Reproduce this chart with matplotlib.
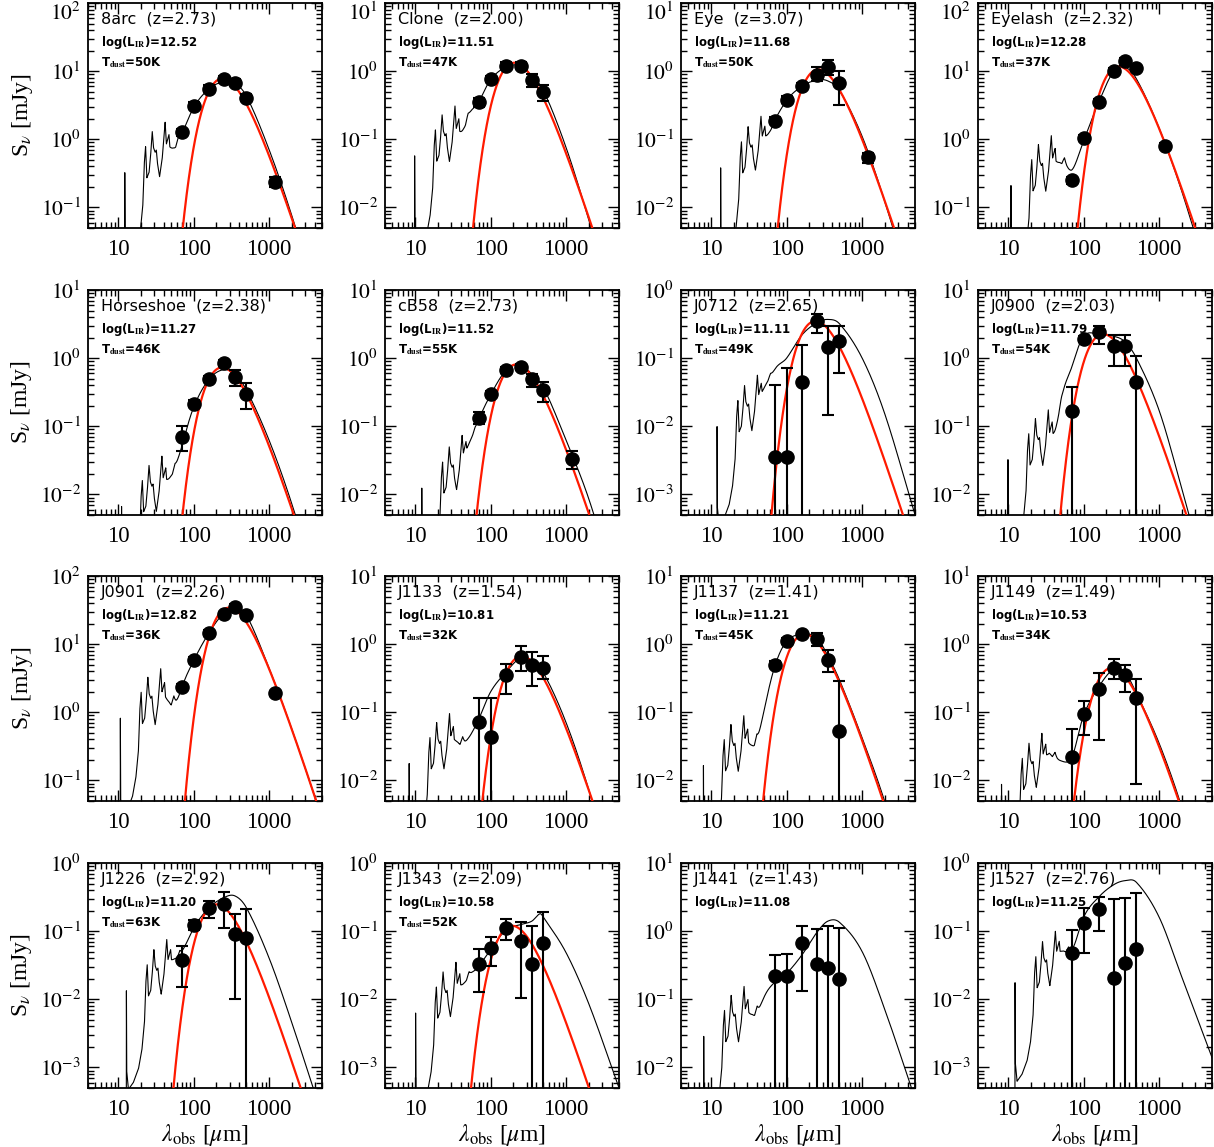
import numpy as np
import matplotlib
matplotlib.use("Agg")
import matplotlib.pyplot as plt
from matplotlib.ticker import FixedLocator, FuncFormatter, LogLocator, NullFormatter

plt.rcParams['mathtext.fontset'] = 'stix'

# ---------------- data ----------------
names = ["8arc", "Clone", "Eye", "Eyelash", "Horseshoe", "cB58", "J0712", "J0900",
         "J0901", "J1133", "J1137", "J1149", "J1226", "J1343", "J1441", "J1527"]
redshift = [2.73, 2.00, 3.07, 2.32, 2.38, 2.73, 2.65, 2.03,
            2.26, 1.54, 1.41, 1.49, 2.92, 2.09, 1.43, 2.76]
log_lir = ["12.52", "11.51", "11.68", "12.28", "11.27", "11.52", "11.11", "11.79",
           "12.82", "10.81", "11.21", "10.53", "11.20", "10.58", "11.08", "11.25"]
t_dust = [50, 47, 50, 37, 46, 55, 49, 54, 36, 32, 45, 34, 63, 52, None, None]
y_top = [100, 10, 10, 100, 10, 10, 1, 10, 100, 10, 10, 10, 1, 1, 10, 1]

# photometry (observed wavelength [um], flux [mJy], error bar lower / upper ends)
pt_lam = [
    [70, 100, 160, 250, 350, 500, 1200], [70, 100, 160, 250, 350, 500],
    [70, 100, 160, 250, 350, 500, 1200], [70, 100, 160, 250, 350, 500, 1200],
    [70, 100, 160, 250, 350, 500], [70, 100, 160, 250, 350, 500, 1200],
    [70, 100, 160, 250, 350, 500], [70, 100, 160, 250, 350, 500],
    [70, 100, 160, 250, 350, 500, 1200], [70, 100, 160, 250, 350, 500],
    [70, 100, 160, 250, 350, 500], [70, 100, 160, 250, 350, 500],
    [70, 100, 160, 250, 350, 500], [70, 100, 160, 250, 350, 500],
    [70, 100, 160, 250, 350, 500], [70, 100, 160, 250, 350, 500]]
pt_flux = [
    [1.27, 3.1, 5.5, 7.6, 6.8, 4.1, 0.24], [0.35, 0.77, 1.21, 1.21, 0.75, 0.49],
    [0.186, 0.38, 0.60, 0.89, 1.16, 0.67, 0.055], [0.25, 1.03, 3.5, 10.2, 13.9, 11.1, 0.79],
    [0.070, 0.216, 0.49, 0.84, 0.53, 0.30], [0.133, 0.294, 0.67, 0.75, 0.49, 0.34, 0.033],
    [0.0036, 0.0036, 0.044, 0.35, 0.146, 0.18], [0.167, 1.93, 2.42, 1.52, 1.52, 0.44],
    [2.37, 5.8, 14.7, 27.4, 35.5, 26.4, 1.89], [0.073, 0.044, 0.356, 0.64, 0.50, 0.45],
    [0.50, 1.11, 1.39, 1.19, 0.59, 0.053], [0.022, 0.096, 0.218, 0.454, 0.35, 0.16],
    [0.0375, 0.125, 0.22, 0.252, 0.092, 0.080], [0.033, 0.057, 0.113, 0.072, 0.033, 0.067],
    [0.222, 0.222, 0.67, 0.333, 0.288, 0.198], [0.048, 0.132, 0.211, 0.0206, 0.034, 0.054]]
pt_lo = [
    [1.12, 2.75, 4.9, 6.8, 6.0, 3.6, 0.20], [0.30, 0.69, 1.07, 1.07, 0.59, 0.36],
    [0.165, 0.34, 0.53, 0.71, 0.89, 0.32, 0.045], [0.22, 0.93, 3.15, 9.2, 12.5, 10.0, 0.71],
    [0.043, 0.19, 0.44, 0.76, 0.39, 0.18], [0.107, 0.265, 0.60, 0.68, 0.38, 0.23, 0.024],
    [1e-7, 1e-7, 1e-7, 0.237, 0.0147, 0.06], [1e-7, 1.75, 1.63, 0.78, 0.78, 1e-7],
    [2.15, 5.25, 13.3, 24.8, 32.1, 23.9, 1.71], [1e-7, 1e-7, 0.187, 0.41, 0.24, 0.31],
    [0.44, 1.0, 1.27, 0.93, 0.39, 1e-7], [1e-7, 0.047, 0.039, 0.31, 0.20, 0.0089],
    [0.0152, 0.105, 0.157, 0.11, 0.0101, 1e-7], [0.013, 0.0306, 0.075, 0.0104, 1e-7, 1e-7],
    [1e-7, 1e-7, 0.133, 1e-7, 1e-7, 1e-7], [1e-7, 0.048, 0.099, 1e-7, 1e-7, 1e-7]]
pt_hi = [
    [1.43, 3.5, 6.2, 8.5, 7.7, 4.6, 0.28], [0.41, 0.86, 1.37, 1.37, 0.92, 0.63],
    [0.21, 0.43, 0.68, 1.15, 1.44, 1.02, 0.064], [0.28, 1.14, 3.9, 11.3, 15.4, 12.3, 0.88],
    [0.10, 0.245, 0.55, 0.93, 0.67, 0.43], [0.16, 0.325, 0.74, 0.83, 0.59, 0.44, 0.043],
    [0.041, 0.071, 0.154, 0.44, 0.30, 0.30], [0.38, 2.13, 3.0, 2.2, 2.2, 1.09],
    [2.6, 6.4, 16.2, 30.1, 39.0, 29.0, 2.08], [0.16, 0.16, 0.52, 0.93, 0.77, 0.66],
    [0.56, 1.23, 1.52, 1.44, 0.81, 0.29], [0.056, 0.147, 0.38, 0.60, 0.49, 0.31],
    [0.060, 0.148, 0.28, 0.38, 0.176, 0.208], [0.054, 0.082, 0.15, 0.137, 0.118, 0.193],
    [0.44, 0.47, 1.18, 1.08, 1.18, 1.12], [0.103, 0.216, 0.32, 0.297, 0.31, 0.36]]

# template SED: far-IR part read at observed wavelengths (black line)
fir_grid = [35, 50, 70, 100, 160, 250, 350, 500, 1000, 2000, 5000]
fir_grid_j1343 = [35, 50, 70, 100, 160, 250, 350, 450, 500, 1000, 2000, 5000]
fir_flux = [
    [0.03, 0.2, 1.05, 2.9, 5.5, 7.0, 6.6, 4.3, 0.70, 0.075, 0.0026],
    [0.01, 0.16, 0.35, 0.75, 1.15, 1.2, 0.85, 0.52, 0.075, 0.0065, 0.0002],
    [0.003, 0.03, 0.16, 0.37, 0.60, 0.74, 0.72, 0.52, 0.11, 0.012, 0.0004],
    [0.02, 0.2, 0.32, 0.95, 3.6, 10.0, 11.5, 7.7, 1.45, 0.17, 0.006],
    [0.0008, 0.01, 0.05, 0.19, 0.49, 0.68, 0.58, 0.34, 0.062, 0.0072, 0.00025],
    [0.002, 0.03, 0.12, 0.29, 0.66, 0.80, 0.58, 0.37, 0.062, 0.0085, 0.0003],
    [0.001, 0.02, 0.065, 0.10, 0.22, 0.33, 0.37, 0.32, 0.10, 0.015, 0.0005],
    [0.005, 0.2, 0.75, 2.1, 2.25, 2.1, 1.75, 1.0, 0.17, 0.012, 0.0003],
    [0.05, 0.4, 2.2, 5.7, 14.7, 28.5, 34.5, 26.5, 4.4, 0.56, 0.028],
    [0.01, 0.035, 0.08, 0.2, 0.39, 0.63, 0.58, 0.38, 0.07, 0.0072, 0.0002],
    [0.01, 0.1, 0.48, 1.1, 1.4, 1.25, 0.68, 0.3, 0.042, 0.0048, 0.00015],
    [0.012, 0.017, 0.022, 0.09, 0.24, 0.43, 0.39, 0.19, 0.035, 0.004, 0.00012],
    [0.001, 0.012, 0.042, 0.11, 0.22, 0.31, 0.33, 0.22, 0.04, 0.0045, 0.0002],
    [0.002, 0.015, 0.03, 0.053, 0.105, 0.125, 0.14, 0.18, 0.16, 0.048, 0.0085, 0.0005],
    [0.02, 0.1, 0.18, 0.24, 0.45, 0.95, 1.4, 1.35, 0.5, 0.07, 0.0035],
    [0.002, 0.02, 0.045, 0.16, 0.32, 0.48, 0.55, 0.52, 0.16, 0.021, 0.0014]]
# mid-IR (PAH) part: height of 11.3um feature [mJy] and rest-frame shape
mir_peak = [1.7, 0.3, 0.2, 1.1, 0.035, 0.065, 0.052, 0.17,
            4.3, 0.093, 0.087, 0.046, 0.07, 0.033, 0.15, 0.092]
mir_rest = [2.0, 3.26, 3.29, 3.32, 3.5, 4.07, 4.76, 5.27, 5.7, 5.95, 6.2, 6.45, 6.9, 7.2,
            7.6, 7.9, 8.3, 8.6, 8.9, 9.5, 10.3, 11.25, 11.7, 12.65, 13.0, 14.5,
            15.5, 16.8, 18.0, 20.0, 25.0, 35.0, 100.0]
mir_rel = [-6, -6, -0.72, -1.9, -2.17, -2.07, -1.87, -1.6, -1.2, -0.6, -0.34, -0.8, -0.72, -0.5,
           -0.12, -0.36, -0.43, -0.4, -0.6, -0.83, -0.55, 0.0, -0.35, -0.22, -0.45, -0.58,
           -0.7, -0.6, -0.9, -1.25, -2.2, -4.0, -9.0]
# modified blackbody (red line) peak height [mJy]
red_peak = [7.8, 1.33, 1.06, 11.7, 0.73, 0.81, 0.35, 2.26,
            34.3, 0.665, 1.41, 0.45, 0.247, 0.12, None, None]


# ---------------- helpers ----------------
def loglog_curve(xs, ys, x):
    lx = np.log10(np.asarray(xs, float))
    ly = np.log10(np.asarray(ys, float))
    n = len(lx)
    m = np.empty(n)
    m[1:-1] = (ly[2:] - ly[:-2]) / (lx[2:] - lx[:-2])
    m[0] = (ly[1] - ly[0]) / (lx[1] - lx[0])
    m[-1] = (ly[-1] - ly[-2]) / (lx[-1] - lx[-2])
    t = np.log10(x)
    k = np.clip(np.searchsorted(lx, t) - 1, 0, n - 2)
    h = lx[k + 1] - lx[k]
    s = (t - lx[k]) / h
    y = ((2 * s**3 - 3 * s**2 + 1) * ly[k] + (s**3 - 2 * s**2 + s) * h * m[k]
         + (-2 * s**3 + 3 * s**2) * ly[k + 1] + (s**3 - s**2) * h * m[k + 1])
    y = np.where(t < lx[0], ly[0] + 6.0 * (t - lx[0]), y)
    y = np.where(t > lx[-1], ly[-1] + m[-1] * (t - lx[-1]), y)
    return 10**y


def mbb(lam_obs, z, T, peak, beta=1.5):
    nu = 2.998e5 / (lam_obs / (1 + z))  # GHz
    x = 0.04799 * nu / T
    with np.errstate(over='ignore'):
        s = nu**(3 + beta) / np.expm1(x)
    return peak * s / np.nanmax(s)


# ---------------- figure ----------------
W, H = 1214, 1147
fig = plt.figure(figsize=(W / 100, H / 100), dpi=100)
col_left = [88, 385, 681, 978]
row_top = [3, 290, 576, 863]
aw, ah = 234, 225

xmajor = [10, 100, 1000]
xminor = [4, 5, 6, 7, 8, 9] + [v * d for d in (10, 100, 1000) for v in range(2, 10)
                               if v * d <= 5000]

for i, name in enumerate(names):
    r, c = divmod(i, 4)
    ax = fig.add_axes([col_left[c] / W, 1 - (row_top[r] + ah) / H, aw / W, ah / H])
    ax.set_xscale('log')
    ax.set_yscale('log')
    z = redshift[i]

    lam = np.logspace(np.log10(3.5), np.log10(5500), 2000)
    lam = np.unique(np.concatenate([lam, np.array(mir_rest) * (1 + z)]))
    lam = lam[(lam >= 3.5) & (lam <= 5500)]
    grid = fir_grid_j1343 if name == "J1343" else fir_grid
    mir = mir_peak[i] * 10**np.interp(np.log10(lam / (1 + z)), np.log10(mir_rest), mir_rel)
    fir = loglog_curve(grid, fir_flux[i], lam)
    ax.plot(lam, mir + fir, color='black', lw=0.8, zorder=2)

    if t_dust[i] is not None:
        ax.plot(lam, mbb(lam, z, t_dust[i], red_peak[i]), color='#ff1a00', lw=1.6, zorder=3)

    f = np.array(pt_flux[i])
    lo = f - np.array(pt_lo[i])
    hi = np.array(pt_hi[i]) - f
    ax.errorbar(pt_lam[i], f, yerr=[lo, hi], fmt='o', color='black', ms=9.5,
                ecolor='black', elinewidth=1.5, capsize=4.3, capthick=1.5, zorder=4)

    ax.set_xlim(4, 5000)
    ax.set_ylim(y_top[i] / 2000, y_top[i])

    ax.xaxis.set_major_locator(FixedLocator(xmajor))
    ax.xaxis.set_minor_locator(FixedLocator(xminor))
    ax.xaxis.set_major_formatter(FuncFormatter(lambda v, p: "%d" % v))
    ax.xaxis.set_minor_formatter(NullFormatter())
    ax.yaxis.set_major_locator(LogLocator(base=10, numticks=10))
    ax.yaxis.set_minor_locator(LogLocator(base=10, subs=np.arange(2, 10), numticks=20))
    ax.yaxis.set_minor_formatter(NullFormatter())
    ax.yaxis.set_major_formatter(FuncFormatter(lambda v, p: r"$10^{%d}$" % round(np.log10(v))))
    ax.tick_params(which='both', direction='in', top=True, right=True, width=1.0)
    ax.tick_params(which='major', length=8)
    ax.tick_params(which='minor', length=4)
    ax.tick_params(axis='x', which='major', pad=8)
    ax.tick_params(axis='y', which='major', pad=5)
    for lab in ax.get_xticklabels():
        lab.set_fontfamily('Liberation Serif')
        lab.set_fontsize(16.5)
    for lab in ax.get_yticklabels():
        lab.set_fontfamily('Liberation Serif')
        lab.set_fontsize(15.5)
    if r == 0:
        for tk in ax.yaxis.get_major_ticks():
            if abs(np.log10(tk.get_loc()) - np.log10(y_top[i])) < 1e-6:
                tk.label1.set_va('top')
    for sp in ax.spines.values():
        sp.set_linewidth(1.3)

    ax.text(0.056, 0.927, "%s  (z=%.2f)" % (name, z), transform=ax.transAxes,
            fontsize=11.5, family='DejaVu Sans', va='center', ha='left')
    ax.text(0.056, 0.824, r"log(L$_{\mathbf{IR}}$)=" + log_lir[i], transform=ax.transAxes,
            fontsize=8.5, family='DejaVu Sans', fontweight='bold', va='center', ha='left')
    if t_dust[i] is not None:
        ax.text(0.056, 0.733, r"T$_{\mathbf{dust}}$=%dK" % t_dust[i], transform=ax.transAxes,
                fontsize=8.5, family='DejaVu Sans', fontweight='bold', va='center', ha='left')

    if c == 0:
        ax.set_ylabel(r"S$_\nu$ [mJy]", fontsize=17, family='Liberation Serif', labelpad=4)
    if r == 3:
        ax.set_xlabel(r"$\lambda_{\rm obs}$ [$\mu$m]", fontsize=17, family='Liberation Serif',
                      labelpad=1)

fig.savefig("out.png", dpi=100)
